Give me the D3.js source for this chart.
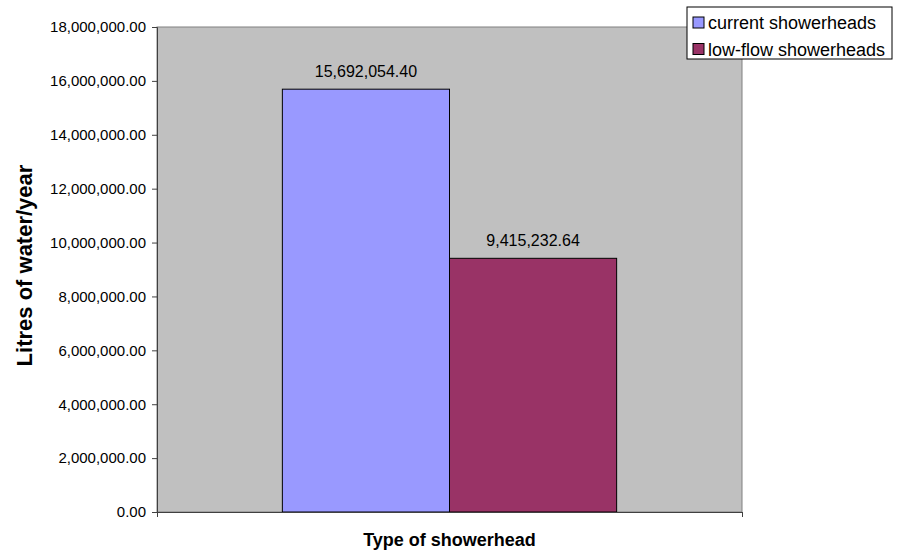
<!DOCTYPE html>
<html>
<head>
<meta charset="utf-8">
<script src="https://cdn.jsdelivr.net/npm/d3@7"></script>
<style>
  html, body { margin: 0; padding: 0; background: #fff; }
  svg { display: block; font-family: "Liberation Sans", Arial, sans-serif; }
</style>
</head>
<body>
<svg id="chart" width="897" height="557"></svg>
<script>
// Annual water use by showerhead type
const categories = ["Type of showerhead"];
const seriesNames = ["current showerheads", "low-flow showerheads"];
const seriesValues = [15692054.40, 9415232.64];
const seriesColors = ["#9999FF", "#993366"];
const yTicks = [0, 2000000, 4000000, 6000000, 8000000, 10000000, 12000000, 14000000, 16000000, 18000000];
const yTitle = "Litres of water/year";
const xTitle = "Type of showerhead";

const svg = d3.select("#chart");
const margin = { left: 157, top: 27, right: 155, bottom: 45 };
const W = 897, H = 557;
const plotW = W - margin.left - margin.right;
const plotH = H - margin.top - margin.bottom;

const g = svg.append("g").attr("transform", `translate(${margin.left},${margin.top})`);

const y = d3.scaleLinear().domain([0, 18000000]).range([plotH, 0]);
const x0 = d3.scaleBand().domain(categories).range([0, plotW]).paddingInner(0).paddingOuter(0);
// gap width of 150% of one bar on the category
const groupW = x0.bandwidth();
const barW = groupW / (seriesNames.length + 1.5);
const x1 = d3.scaleBand().domain(seriesNames)
  .range([x0(categories[0]) + 0.75 * barW, x0(categories[0]) + groupW - 0.75 * barW])
  .padding(0);

// plot area
g.append("rect")
  .attr("x", 0).attr("y", 0).attr("width", plotW).attr("height", plotH)
  .attr("fill", "#C0C0C0").attr("stroke", "#808080").attr("stroke-width", 1);

// bars
const bars = seriesNames.map((s, i) => ({ s, v: seriesValues[i], c: seriesColors[i] }));
g.selectAll("rect.bar").data(bars).join("rect")
  .attr("class", "bar")
  .attr("x", d => x1(d.s))
  .attr("y", d => y(d.v))
  .attr("width", x1.bandwidth())
  .attr("height", d => plotH - y(d.v))
  .attr("fill", d => d.c)
  .attr("stroke", "#000").attr("stroke-width", 1);

// value labels
const fmt = d3.format(",.2f");
g.selectAll("text.val").data(bars).join("text")
  .attr("class", "val")
  .attr("x", d => x1(d.s) + x1.bandwidth() / 2)
  .attr("y", d => y(d.v) - 12)
  .attr("text-anchor", "middle")
  .attr("font-size", 16)
  .attr("fill", "#000")
  .text(d => fmt(d.v));

// y axis
const yAxis = d3.axisLeft(y).tickValues(yTicks).tickFormat(fmt).tickSize(5).tickPadding(6);
const ya = g.append("g").call(yAxis);
ya.select(".domain").attr("stroke", "#404040");
ya.selectAll(".tick line").attr("stroke", "#404040");
ya.selectAll(".tick text").attr("font-size", 15).attr("fill", "#000")
  .attr("font-family", "Liberation Sans, Arial, sans-serif");

// x axis: ticks at the category boundaries, no labels
const xEdge = d3.scaleLinear().domain([0, 1]).range([0, plotW]);
const xa = g.append("g").attr("transform", `translate(0,${plotH})`)
  .call(d3.axisBottom(xEdge).tickValues([0, 1]).tickFormat("").tickSize(5).tickSizeOuter(0));
xa.select(".domain").attr("stroke", "#404040");
xa.selectAll(".tick line").attr("stroke", "#404040");

// axis titles
svg.append("text")
  .attr("transform", `translate(32,${margin.top + plotH / 2 - 4}) rotate(-90)`)
  .attr("text-anchor", "middle")
  .attr("font-size", 22).attr("font-weight", "bold")
  .text(yTitle);
svg.append("text")
  .attr("x", margin.left + plotW / 2).attr("y", 546)
  .attr("text-anchor", "middle")
  .attr("font-size", 18).attr("font-weight", "bold")
  .text(xTitle);

// legend
const lg = svg.append("g").attr("transform", "translate(687,7)");
lg.append("rect").attr("x", 0).attr("y", 0).attr("width", 205).attr("height", 52)
  .attr("fill", "#fff").attr("stroke", "#000").attr("stroke-width", 1);
seriesNames.forEach((s, i) => {
  const row = lg.append("g").attr("transform", `translate(6,${10 + i * 26.5})`);
  row.append("rect").attr("x", 0).attr("y", 0).attr("width", 11).attr("height", 11)
    .attr("fill", seriesColors[i]).attr("stroke", "#000").attr("stroke-width", 1);
  row.append("text").attr("x", 15).attr("y", 12)
    .attr("font-size", 18).attr("fill", "#000").text(s);
});
</script>
</body>
</html>
